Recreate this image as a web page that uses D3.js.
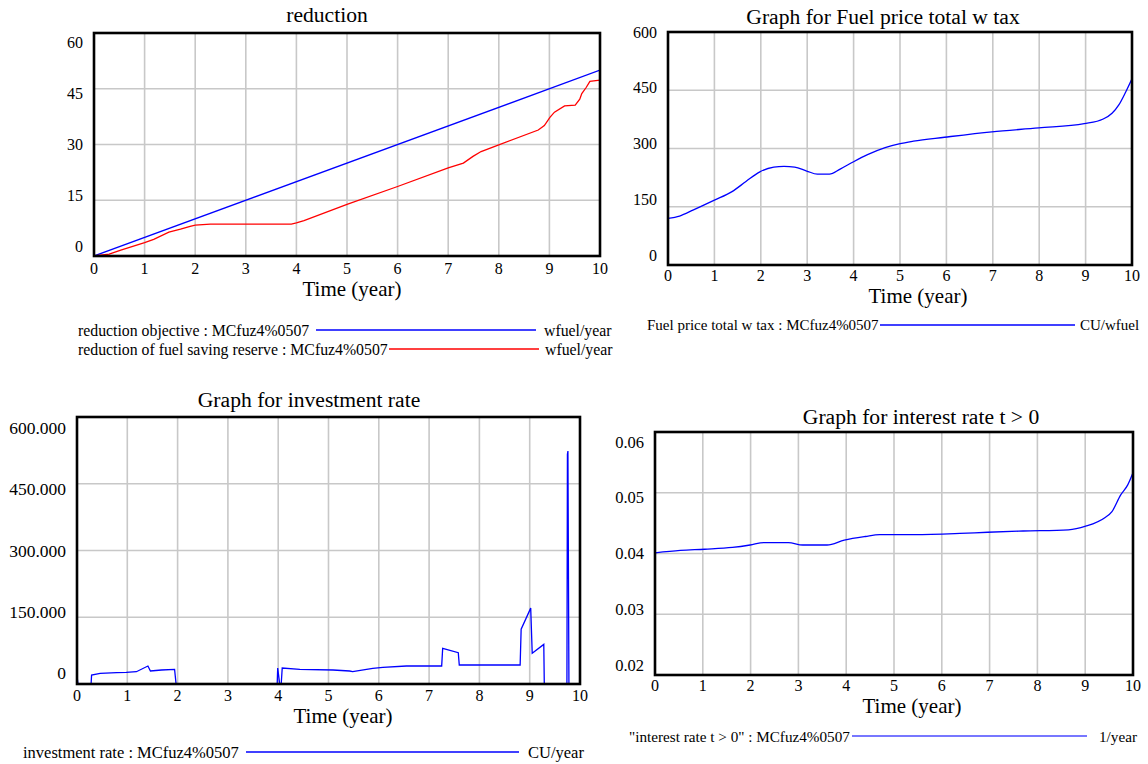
<!DOCTYPE html>
<html><head><meta charset="utf-8">
<script src="https://cdn.jsdelivr.net/npm/d3@7"></script>
<style>
body{margin:0;background:#fff}
svg text{font-family:"Liberation Serif","Times New Roman",serif;fill:#000}
</style>
</head><body>
<svg id="c" width="1148" height="764"></svg>
<script>
// ---------- DATA ----------
const timeTicks = [0,1,2,3,4,5,6,7,8,9,10];

// Panel 1: reduction
const reductionTicks = [0,15,30,45,60];
const objectiveT = [0,10];
const objectiveV = [0,50];
const reserveT = [0,0.3,0.53,1,1.18,1.48,1.71,1.9,2,2.3,3.9,4,4.15,5,6,7,7.3,7.49,7.65,8,8.78,8.9,9.01,9.1,9.3,9.51,9.6,9.64,9.73,9.8,10];
const reserveV = [0,0.5,1.6,3.6,4.5,6.4,7.2,8.0,8.3,8.6,8.6,8.9,9.5,13.9,18.7,23.7,25.0,26.8,28.1,29.9,33.9,35.1,37.3,38.7,40.4,40.6,42.2,43.7,45.4,47.0,47.3];

// Panel 2: fuel price total w tax
const fuelTicks = [0,150,300,450,600];
const fuelT = [0,0.25,0.55,1,1.38,1.68,1.98,2.28,2.5,2.73,2.99,3.22,3.48,3.71,4,4.3,4.68,4.98,5.29,5.96,6.98,7.99,8.97,9.38,9.57,9.72,9.87,10];
const fuelV = [120,126,142,167,189,215,240,252,254,252,242,234,234,247,266,284,302,312,319,329,343,353,364,376,391,413,447,480];

// Panel 3: investment rate
const investTicks = [0,150000,300000,450000,600000];
const investT = [0,0.02,0.28,0.29,0.46,0.79,0.98,1.18,1.41,1.46,1.68,1.94,1.97,3.98,3.99,4.03,4.06,4.08,4.43,5.09,5.42,5.48,5.88,6.08,6.55,7.25,7.27,7.58,7.6,8.81,8.83,9.02,9.05,9.28,9.29,9.74,9.75,9.76,9.78,10];
const investV = [18000,0,0,20200,24000,25400,26000,27600,40400,29200,31500,32900,0,0,36000,0,0,36000,32900,31500,29200,28000,35300,37500,40400,40400,80200,70300,42700,42700,123000,170500,69000,89000,0,0,516000,523500,0,0];

// Panel 4: interest rate t > 0
const interestTicks = [0.02,0.03,0.04,0.05,0.06];
const interestT = [0,0.53,1.04,1.62,1.99,2.28,2.79,3.09,3.6,3.96,4.4,4.7,5.43,6.38,6.96,7.7,8.65,9.01,9.41,9.56,9.74,9.89,10];
const interestV = [0.0401,0.0405,0.0407,0.0410,0.0414,0.0418,0.0418,0.0414,0.0414,0.0422,0.0428,0.0431,0.0431,0.0433,0.0435,0.0437,0.0439,0.0445,0.0459,0.0469,0.0496,0.0513,0.0533];

// ---------- LAYOUT ----------
const svg = d3.select("#c");
const fmtInvest = v => d3.format(",")(v).replace(/,/g, ".");

const panels = [
  {x0:94,x1:600,y0:33,y1:256,dom:[0,60],ticks:reductionTicks,fmt:d3.format("d"),labTop:9,labBot:10,tickFs:16,
   title:"reduction",tx:327,ty:15,xLabY:268,atx:352,aty:289,
   series:[{t:objectiveT,v:objectiveV,c:"#0000ff",curve:d3.curveLinear},{t:reserveT,v:reserveV,c:"#ff0000",curve:d3.curveLinear}],
   legFs:15.8,
   legend:[{text:"reduction objective : MCfuz4%0507",x:78,y:330,l1:316,l2:536,unit:"wfuel/year",ux:544,c:"#0000ff"},
           {text:"reduction of fuel saving reserve : MCfuz4%0507",x:78,y:349,l1:389,l2:539,unit:"wfuel/year",ux:545,c:"#ff0000"}]},
  {x0:668,x1:1132,y0:32,y1:265,dom:[0,600],ticks:fuelTicks,fmt:d3.format("d"),labTop:0,labBot:10,tickFs:16,
   title:"Graph for Fuel price total w tax",tx:883,ty:17,xLabY:275,atx:918,aty:296,
   series:[{t:fuelT,v:fuelV,c:"#0000ff",curve:d3.curveMonotoneX}],
   legFs:15,
   legend:[{text:"Fuel price total w tax : MCfuz4%0507",x:647,y:325,l1:880,l2:1075,unit:"CU/wfuel",ux:1080,c:"#0000ff"}]},
  {x0:77,x1:580,y0:417,y1:684,dom:[0,600000],ticks:investTicks,fmt:fmtInvest,labTop:11,labBot:11,tickFs:17.5,
   title:"Graph for investment rate",tx:309,ty:400,xLabY:695,atx:343,aty:716,
   series:[{t:investT,v:investV,c:"#0000ff",curve:d3.curveLinear}],
   legFs:16.5,
   legend:[{text:"investment rate : MCfuz4%0507",x:23,y:752,l1:246,l2:519,unit:"CU/year",ux:528,c:"#0000ff"}]},
  {x0:655,x1:1133,y0:432,y1:675,dom:[0.02,0.06],ticks:interestTicks,fmt:d3.format(".2f"),labTop:10,labBot:10,tickFs:16.5,
   title:"Graph for interest rate t > 0",tx:921,ty:417,xLabY:685,atx:912,aty:706,
   series:[{t:interestT,v:interestV,c:"#0000ff",curve:d3.curveMonotoneX}],
   legFs:15.2,
   legend:[{text:"\"interest rate t > 0\" : MCfuz4%0507",x:629,y:736,l1:852,l2:1087,unit:"1/year",ux:1099,c:"#4a4aff"}]}
];

panels.forEach((p,i) => {
  const g = svg.append("g");
  const x = d3.scaleLinear().domain([0,10]).range([p.x0,p.x1]);
  const y = d3.scaleLinear().domain(p.dom).range([p.y1,p.y0]);
  const yLab = d3.scaleLinear().domain(p.dom).range([p.y1-p.labBot,p.y0+p.labTop]);

  // grid
  g.selectAll(".vg").data(timeTicks.slice(1,-1)).join("line")
    .attr("x1",d=>x(d)).attr("x2",d=>x(d)).attr("y1",p.y0).attr("y2",p.y1)
    .attr("stroke","#c8c8c8").attr("stroke-width",1.6);
  g.selectAll(".hg").data(p.ticks.slice(1,-1)).join("line")
    .attr("y1",d=>y(d)).attr("y2",d=>y(d)).attr("x1",p.x0).attr("x2",p.x1)
    .attr("stroke","#c8c8c8").attr("stroke-width",1.6);

  // clip
  const cid = "clip"+i;
  svg.append("clipPath").attr("id",cid).append("rect")
    .attr("x",p.x0).attr("y",p.y0-1).attr("width",p.x1-p.x0).attr("height",p.y1-p.y0+1);

  // series
  p.series.forEach(s => {
    const pts = s.t.map((t,k)=>[t,s.v[k]]);
    g.append("path").datum(pts)
      .attr("clip-path",`url(#${cid})`)
      .attr("fill","none").attr("stroke",s.c).attr("stroke-width",1.3)
      .attr("d",d3.line().x(d=>x(d[0])).y(d=>y(d[1])).curve(s.curve));
  });

  // frame
  g.append("rect").attr("x",p.x0).attr("y",p.y0).attr("width",p.x1-p.x0).attr("height",p.y1-p.y0)
    .attr("fill","none").attr("stroke","#000").attr("stroke-width",2.6);

  // y labels
  g.selectAll(".yl").data(p.ticks).join("text")
    .attr("x",p.x0-11).attr("y",d=>yLab(d)).attr("text-anchor","end")
    .attr("dominant-baseline","central").style("font-size",p.tickFs+"px").text(p.fmt);

  // x labels
  g.selectAll(".xl").data(timeTicks).join("text")
    .attr("x",d=>x(d)).attr("y",p.xLabY).attr("text-anchor","middle")
    .attr("dominant-baseline","central").style("font-size","16px").text(d=>d);

  // axis title
  g.append("text").attr("x",p.atx).attr("y",p.aty).attr("text-anchor","middle")
    .attr("dominant-baseline","central").style("font-size","21px").text("Time (year)");

  // title
  g.append("text").attr("x",p.tx).attr("y",p.ty).attr("text-anchor","middle")
    .attr("dominant-baseline","central").style("font-size","21.6px").text(p.title);

  // legend
  p.legend.forEach(l => {
    g.append("text").attr("x",l.x).attr("y",l.y).attr("dominant-baseline","central")
      .style("font-size",p.legFs+"px").text(l.text);
    g.append("line").attr("x1",l.l1).attr("x2",l.l2).attr("y1",l.y).attr("y2",l.y)
      .attr("stroke",l.c).attr("stroke-width",1.3);
    g.append("text").attr("x",l.ux).attr("y",l.y).attr("dominant-baseline","central")
      .style("font-size",p.legFs+"px").text(l.unit);
  });
});
</script>
</body></html>
